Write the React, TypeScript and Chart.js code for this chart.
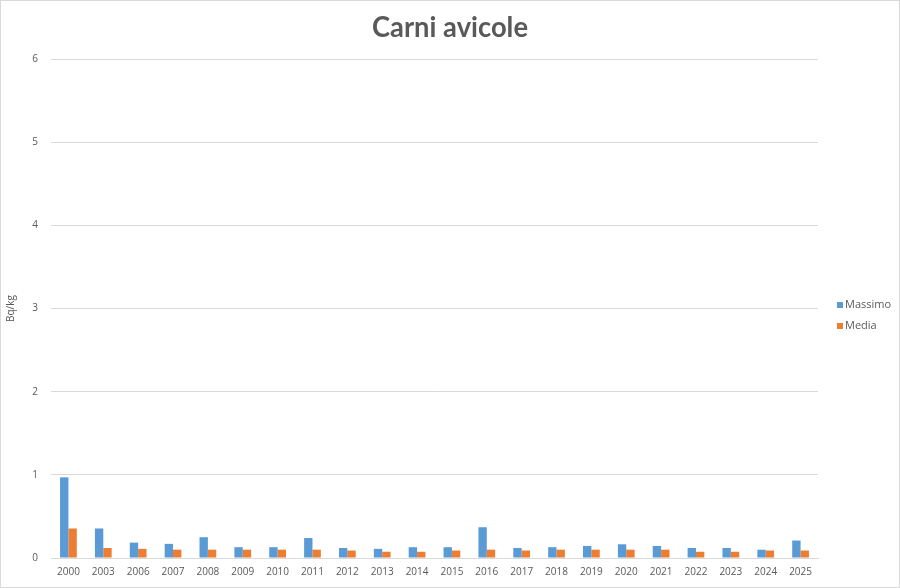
import { useEffect, useRef } from 'react';
import { Chart, registerables } from 'chart.js';

Chart.register(...registerables);

const years = ['2000', '2003', '2006', '2007', '2008', '2009', '2010', '2011', '2012', '2013', '2014', '2015',
  '2016', '2017', '2018', '2019', '2020', '2021', '2022', '2023', '2024', '2025'];
const massimo = [0.97, 0.355, 0.185, 0.17, 0.25, 0.13, 0.13, 0.24, 0.12, 0.11, 0.13, 0.13,
  0.37, 0.12, 0.13, 0.145, 0.165, 0.145, 0.12, 0.12, 0.10, 0.21];
const media = [0.355, 0.12, 0.11, 0.10, 0.10, 0.10, 0.10, 0.10, 0.09, 0.075, 0.075, 0.09,
  0.10, 0.09, 0.10, 0.10, 0.10, 0.10, 0.075, 0.075, 0.09, 0.09];

const TITLE = 'Carni avicole';
const TEXT = '#595959';
const FONT = '"Open Sans", "DejaVu Sans", sans-serif';

// frame, title centred on the picture, legend on the right
const framePlugin = {
  id: 'frame',
  beforeDraw(chart: any) {
    const { ctx, width, height } = chart;
    ctx.save();
    ctx.fillStyle = '#ffffff';
    ctx.fillRect(0, 0, width, height);
    ctx.strokeStyle = '#d9d9d9';
    ctx.lineWidth = 1;
    ctx.strokeRect(0.5, 0.5, width - 1, height - 1);
    ctx.restore();
  },
  afterDraw(chart: any) {
    const { ctx, width } = chart;
    ctx.save();
    ctx.fillStyle = TEXT;
    ctx.font = `bold 28px Lato, "Open Sans", sans-serif`;
    ctx.textAlign = 'center';
    ctx.textBaseline = 'middle';
    ctx.fillText(TITLE, width / 2, 28, 156);

    ctx.font = `11px ${FONT}`;
    ctx.textAlign = 'left';
    chart.data.datasets.forEach((ds: any, i: number) => {
      const y = 305 + i * 21;
      ctx.fillStyle = ds.backgroundColor;
      ctx.fillRect(837, y - 3, 6, 6);
      ctx.fillStyle = TEXT;
      ctx.fillText(ds.label, 845, y);
    });
    ctx.restore();
  },
};

export default function App() {
  const canvasRef = useRef<HTMLCanvasElement>(null);

  useEffect(() => {
    document.body.style.margin = '0';
    if (!canvasRef.current) return;
    const chart = new Chart(canvasRef.current, {
      type: 'bar',
      data: {
        labels: years,
        datasets: [
          { label: 'Massimo', data: massimo, backgroundColor: '#5B9BD5' },
          { label: 'Media', data: media, backgroundColor: '#ED7D31' },
        ],
      },
      options: {
        responsive: false,
        animation: false,
        devicePixelRatio: 1,
        layout: { padding: { left: 5, right: 82, top: 59, bottom: 0 } },
        datasets: { bar: { categoryPercentage: 0.48, barPercentage: 1 } },
        plugins: {
          legend: { display: false },
          tooltip: { enabled: false },
          title: { display: false },
        },
        scales: {
          x: {
            grid: { display: false, drawTicks: false },
            border: { color: '#d9d9d9', width: 1 },
            ticks: { color: TEXT, font: { family: FONT, size: 10 }, padding: 8, maxRotation: 0, autoSkip: false },
            afterFit: (s: any) => { s.height = 30; },
          },
          y: {
            min: 0,
            max: 6,
            ticks: { stepSize: 1, color: TEXT, font: { family: FONT, size: 10 }, padding: 13 },
            grid: { color: '#d9d9d9', drawTicks: false },
            border: { display: false },
            title: { display: true, text: 'Bq/kg', color: TEXT, font: { family: FONT, size: 10 }, padding: 0 },
            afterFit: (s: any) => { s.width = 46; },
          },
        },
      },
      plugins: [framePlugin],
    });
    return () => chart.destroy();
  }, []);

  return <canvas ref={canvasRef} width={900} height={588} style={{ display: 'block' }} />;
}
